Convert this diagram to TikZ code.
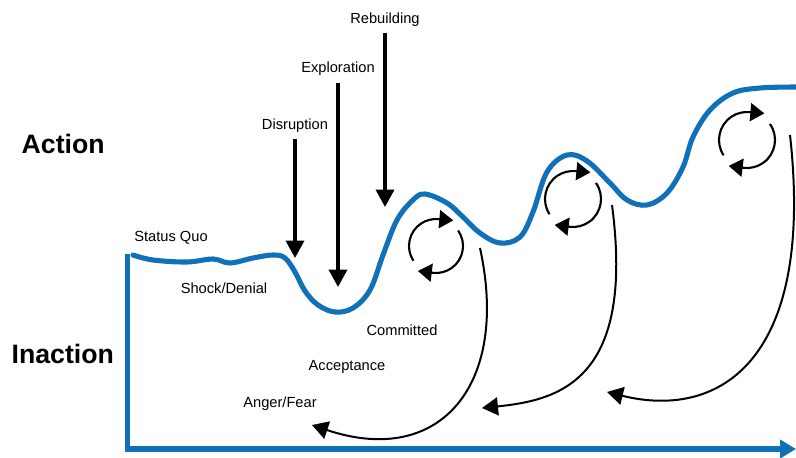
\documentclass[tikz,border=0pt]{standalone}
\usepackage{fontspec}
\setmainfont{Liberation Sans}
\usetikzlibrary{arrows.meta}
\definecolor{curveblue}{RGB}{16,112,184}

\begin{document}
\begin{tikzpicture}[x=0.75pt,y=-0.75pt,
    lbl/.style={font=\fontsize{11}{13}\selectfont,anchor=base},
    big/.style={font=\fontsize{20}{24}\selectfont\bfseries,anchor=base west},
    drop/.style={line width=2.5pt,-{Triangle[length=13pt,width=13.5pt]},shorten <=2pt},
    spin/.style={line width=1.6pt,-{Triangle[length=10.5pt,width=13.5pt]}},
    back/.style={line width=1.5pt,-{Triangle[length=12pt,width=13.5pt]}},
    wave/.style={curveblue,line width=3.8pt,line cap=round,line join=round},
    axis/.style={curveblue,line width=4pt,-{Triangle[length=12pt,width=13.5pt]}}]
  \useasboundingbox (0,0) rectangle (796,457);
  % axes
  \coordinate (ytop) at (127.5,254);
  \coordinate (o) at (127.5,449);
  \coordinate (xend) at (796,449);
  \draw[axis] (ytop) -- (o) -- (xend);
  \node[big] (act) at (17,153) {Action};
  \node[big] (inact) at (7,363) {Inaction};
  % phases from above
  \node[lbl] (rebu) at (385,23) {Rebuilding};
  \node[lbl] (expl) at (338,72.5) {Exploration};
  \node[lbl] (disr) at (295,129) {Disruption};
  \coordinate (rebutip) at (385,207);
  \coordinate (expltip) at (338,287);
  \coordinate (disrtip) at (295,258);
  \draw[drop] (rebu.south) -- (rebutip);
  \draw[drop] (expl.south) -- (expltip);
  \draw[drop] (disr.south) -- (disrtip);
  % phases from below
  \node[lbl] (sq) at (171,241) {Status Quo};
  \node[lbl] (shock) at (224,293) {Shock/Denial};
  \node[lbl] (comm) at (402,335) {Committed};
  \node[lbl] (acc) at (347,370) {Acceptance};
  \node[lbl] (anger) at (280,407) {Anger/Fear};
  % the curve
  \draw[wave] plot[smooth,tension=0.6] coordinates {(133,255) (153,260) (187,262)
    (213,259) (230,263) (253,258) (273,255) (285,258) (295,272) (305,291)
    (318,305) (335,312) (353,308) (370,290) (383,255) (397,220) (413,200)
    (425,194) (447,203) (463,217) (480,233) (500,243) (520,237) (533,212)
    (547,172) (567,155) (587,161) (610,183) (627,200) (647,205) (667,193)
    (683,167) (693,137) (710,110) (733,93) (760,88) (796,87)};
  % cycles
  \coordinate (c1) at (436,246);
  \coordinate (c2) at (573,199);
  \coordinate (c3) at (747,140);
  \draw[spin] (c1) ++(147:27) arc[start angle=147,end angle=275,radius=27] -- ++(5:15);
  \draw[spin] (c1) ++(-35:27) arc[start angle=-35,end angle=97,radius=27] -- ++(187:15);
  \draw[spin] (c2) ++(147:28) arc[start angle=147,end angle=275,radius=28] -- ++(5:15);
  \draw[spin] (c2) ++(-35:28) arc[start angle=-35,end angle=97,radius=28] -- ++(187:15);
  \draw[spin] (c3) ++(147:28) arc[start angle=147,end angle=275,radius=28] -- ++(5:15);
  \draw[spin] (c3) ++(-35:28) arc[start angle=-35,end angle=97,radius=28] -- ++(187:15);
  % falling back
  \coordinate (b1s) at (480,248);
  \coordinate (b1e) at (312,425);
  \coordinate (b2s) at (612,205);
  \coordinate (b2e) at (482,408);
  \coordinate (b3s) at (790,135);
  \coordinate (b3e) at (607,392);
  \draw[back] (b1s) .. controls (510,385) and (440,468) .. (b1e);
  \draw[back] (b2s) .. controls (635,380) and (560,400) .. (b2e);
  \draw[back] (b3s) .. controls (815,360) and (720,420) .. (b3e);
\end{tikzpicture}
\end{document}
